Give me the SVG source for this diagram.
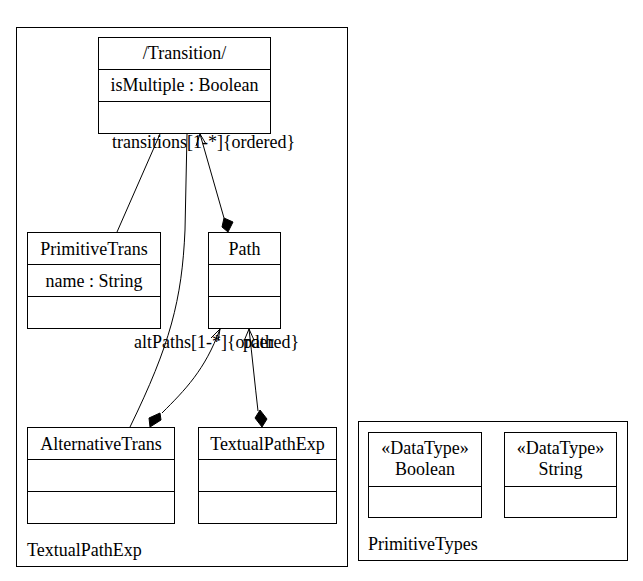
<svg xmlns="http://www.w3.org/2000/svg" width="643" height="581" viewBox="0 0 643 581">
<style>
rect{fill:#fff;stroke:#000;stroke-width:1}
line.d{stroke:#000;stroke-width:1}
text{font-family:"Liberation Serif","Times New Roman",serif;font-size:18px;fill:#000}
.c{text-anchor:middle}
.e{fill:none;stroke:#000;stroke-width:1}
.dia{fill:#000;stroke:#000}
</style>
<rect width="643" height="581" style="stroke:none"/>
<g id="pkg-TextualPathExp">
<rect x="16.5" y="27.5" width="331" height="539"/>
<text x="27" y="556">TextualPathExp</text>
</g>
<g id="pkg-PrimitiveTypes">
<rect x="358.5" y="421.5" width="269" height="139"/>
<text x="368" y="550">PrimitiveTypes</text>
</g>
<g id="Transition">
<rect x="98.5" y="37.5" width="172" height="96"/>
<line class="d" x1="98.5" y1="69.5" x2="270.5" y2="69.5"/>
<line class="d" x1="98.5" y1="101.5" x2="270.5" y2="101.5"/>
<text class="c" x="184.5" y="59">/Transition/</text>
<text class="c" x="184.5" y="91">isMultiple : Boolean</text>
</g>
<g id="PrimitiveTrans">
<rect x="27.5" y="232.5" width="133" height="96"/>
<line class="d" x1="27.5" y1="264.5" x2="160.5" y2="264.5"/>
<line class="d" x1="27.5" y1="296.5" x2="160.5" y2="296.5"/>
<text class="c" x="94" y="255">PrimitiveTrans</text>
<text class="c" x="94" y="287">name : String</text>
</g>
<g id="Path">
<rect x="208.5" y="232.5" width="72" height="96"/>
<line class="d" x1="208.5" y1="264.5" x2="280.5" y2="264.5"/>
<line class="d" x1="208.5" y1="296.5" x2="280.5" y2="296.5"/>
<text class="c" x="244.5" y="255">Path</text>
</g>
<g id="AlternativeTrans">
<rect x="27.5" y="427.5" width="147" height="96"/>
<line class="d" x1="27.5" y1="459.5" x2="174.5" y2="459.5"/>
<line class="d" x1="27.5" y1="491.5" x2="174.5" y2="491.5"/>
<text class="c" x="101" y="450">AlternativeTrans</text>
</g>
<g id="TextualPathExp">
<rect x="198.5" y="427.5" width="138" height="96"/>
<line class="d" x1="198.5" y1="459.5" x2="336.5" y2="459.5"/>
<line class="d" x1="198.5" y1="491.5" x2="336.5" y2="491.5"/>
<text class="c" x="267.5" y="450">TextualPathExp</text>
</g>
<g id="Boolean">
<rect x="368.5" y="432.5" width="113" height="85"/>
<line class="d" x1="368.5" y1="486.5" x2="481.5" y2="486.5"/>
<text class="c" x="425" y="454">«DataType»</text>
<text class="c" x="425" y="475">Boolean</text>
</g>
<g id="String">
<rect x="504.5" y="432.5" width="112" height="85"/>
<line class="d" x1="504.5" y1="486.5" x2="616.5" y2="486.5"/>
<text class="c" x="560.5" y="454">«DataType»</text>
<text class="c" x="560.5" y="475">String</text>
</g>
<g id="connectors">
<path class="e" d="M117,232 L160,134"/>
<path class="e" d="M130,427 C170,345 182,300 185,230 L187,134"/>
<path class="e" d="M224,218 L200,134 M196,146 L200,134 L206,144"/>
<path class="dia" d="M228,232 L233,222 L224,218 L222,227 Z"/>
<path class="e" d="M162,413 C185,390 205,370 220,329 M211,338 L220,329 L218,341"/>
<path class="dia" d="M150,427 L149,418 L160,413 L161,420 Z"/>
<path class="e" d="M258,411 C255,385 252,355 249,329 M244,341 L249,329 L254,340"/>
<path class="dia" d="M262,427 L267,419 L260,410 L255,418 Z"/>
<text x="112" y="148">transitions[1-*]{ordered}</text>
<text x="134" y="348">altPaths[1-*]{ordered}</text>
<text x="243" y="348">path</text>
</g>
</svg>
